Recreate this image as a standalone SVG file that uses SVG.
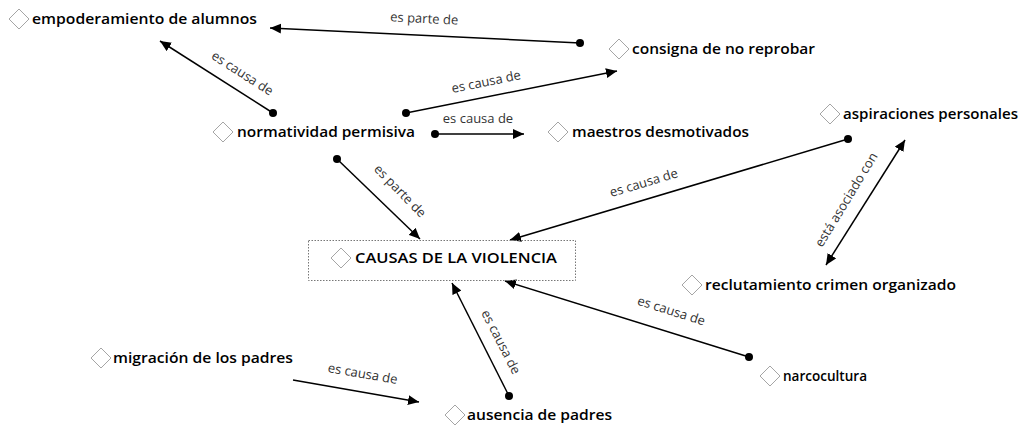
<svg xmlns="http://www.w3.org/2000/svg" width="1025" height="430" viewBox="0 0 1025 430">
<style>
.n{font-family:"Open Sans","Noto Sans",sans-serif;font-size:15px;font-weight:600;fill:#000}
.l{font-family:"Open Sans","Noto Sans",sans-serif;font-size:13px;fill:#333;text-anchor:middle}
.d{fill:#fff;stroke:#a5a5a5;stroke-width:1}
.e{stroke:#000;stroke-width:1.5;fill:none}
.dot{fill:#000}
</style>
<defs>
<marker id="ar" markerUnits="userSpaceOnUse" markerWidth="12" markerHeight="10" refX="11" refY="5" orient="auto">
<path d="M0,0 L11,5 L0,10 z" fill="#000"/>
</marker>
<marker id="as" markerUnits="userSpaceOnUse" markerWidth="12" markerHeight="10" refX="1" refY="5" orient="auto">
<path d="M12,0 L1,5 L12,10 z" fill="#000"/>
</marker>
<path id="dia" d="M0,-10 L10,0 L0,10 L-10,0 z"/>
</defs>
<rect width="1025" height="430" fill="#fff"/>

<g id="connectors">
<g id="c1"><line class="e" x1="580" y1="43" x2="270" y2="28" marker-end="url(#ar)"/><circle class="dot" cx="580" cy="43" r="4"/>
<text class="l" transform="translate(424,23) rotate(2.8)">es parte de</text></g>
<g id="c2"><line class="e" x1="273" y1="113" x2="160" y2="41" marker-end="url(#ar)"/><circle class="dot" cx="273" cy="113" r="4"/>
<text class="l" transform="translate(240,77) rotate(32.8)">es causa de</text></g>
<g id="c3"><line class="e" x1="406" y1="113" x2="617" y2="71" marker-end="url(#ar)"/><circle class="dot" cx="406" cy="113" r="4"/>
<text class="l" transform="translate(487,86) rotate(-11.5)">es causa de</text></g>
<g id="c4"><line class="e" x1="435" y1="134" x2="524" y2="134" stroke-width="1.2" marker-end="url(#ar)"/><circle class="dot" cx="435" cy="134" r="4"/>
<text class="l" x="478" y="123">es causa de</text></g>
<g id="c5"><line class="e" x1="337" y1="159" x2="420" y2="239" marker-end="url(#ar)"/><circle class="dot" cx="337" cy="159" r="4"/>
<text class="l" transform="translate(397,194) rotate(45.7)">es parte de</text></g>
<g id="c6"><line class="e" x1="848" y1="139" x2="510" y2="240" marker-end="url(#ar)"/><circle class="dot" cx="848" cy="139" r="4"/>
<text class="l" transform="translate(645,187) rotate(-16.6)">es causa de</text></g>
<g id="c7"><line class="e" x1="905" y1="140" x2="826" y2="265" marker-start="url(#as)" marker-end="url(#ar)"/>
<text class="l" transform="translate(850,202) rotate(-58.7)">está asociado con</text></g>
<g id="c8"><line class="e" x1="749" y1="357" x2="505" y2="281" marker-end="url(#ar)"/><circle class="dot" cx="749" cy="357" r="4"/>
<text class="l" transform="translate(670,315) rotate(17.5)">es causa de</text></g>
<g id="c9"><line class="e" x1="509" y1="396" x2="452" y2="283" marker-end="url(#ar)"/><circle class="dot" cx="509" cy="396" r="4"/>
<text class="l" transform="translate(497,344) rotate(63)">es causa de</text></g>
<g id="c10"><line class="e" x1="293" y1="380" x2="419" y2="402" marker-end="url(#ar)"/>
<text class="l" transform="translate(362,378) rotate(10)">es causa de</text></g>
</g>

<g id="n1"><use href="#dia" class="d" x="19" y="19"/><text class="n" x="32" y="24" textLength="225" lengthAdjust="spacingAndGlyphs">empoderamiento de alumnos</text></g>
<g id="n2"><use href="#dia" class="d" x="619" y="49"/><text class="n" x="632" y="54" textLength="183" lengthAdjust="spacingAndGlyphs">consigna de no reprobar</text></g>
<g id="n3"><use href="#dia" class="d" x="223" y="132"/><text class="n" x="237" y="137" textLength="178" lengthAdjust="spacingAndGlyphs">normatividad permisiva</text></g>
<g id="n4"><use href="#dia" class="d" x="558" y="132"/><text class="n" x="572" y="137" textLength="177" lengthAdjust="spacingAndGlyphs">maestros desmotivados</text></g>
<g id="n5"><use href="#dia" class="d" x="830" y="114"/><text class="n" x="843" y="119" textLength="175" lengthAdjust="spacingAndGlyphs">aspiraciones personales</text></g>
<g id="n6"><rect x="308.5" y="240.5" width="267" height="40" fill="none" stroke="#777" stroke-width="1" stroke-dasharray="1.5,1.5"/><use href="#dia" class="d" x="341" y="258"/><text class="n" x="355" y="263" textLength="202" lengthAdjust="spacingAndGlyphs">CAUSAS DE LA VIOLENCIA</text></g>
<g id="n7"><use href="#dia" class="d" x="692" y="285"/><text class="n" x="705" y="290" textLength="251" lengthAdjust="spacingAndGlyphs">reclutamiento crimen organizado</text></g>
<g id="n8"><use href="#dia" class="d" x="101" y="358"/><text class="n" x="113" y="363" textLength="180" lengthAdjust="spacingAndGlyphs">migración de los padres</text></g>
<g id="n9"><use href="#dia" class="d" x="770" y="376"/><text class="n" x="783" y="381" textLength="84" lengthAdjust="spacingAndGlyphs">narcocultura</text></g>
<g id="n10"><use href="#dia" class="d" x="455" y="415"/><text class="n" x="467" y="420" textLength="145" lengthAdjust="spacingAndGlyphs">ausencia de padres</text></g>
</svg>
